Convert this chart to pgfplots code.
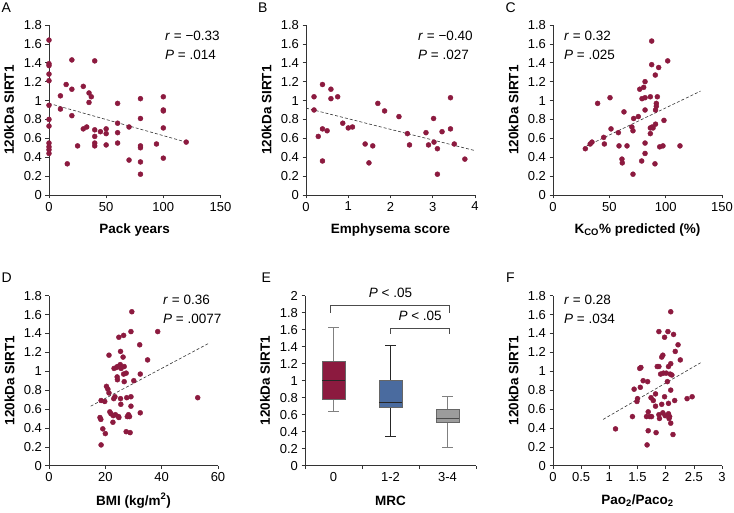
\documentclass[border=0pt]{standalone}
\usepackage{fontspec}
\setmainfont{Liberation Sans}
\usepackage{pgfplots}
\pgfplotsset{compat=1.18}
\usepgfplotslibrary{statistics}
\definecolor{maroon}{HTML}{8C1A3F}
\definecolor{boxblue}{HTML}{4A6B9F}
\definecolor{boxgray}{HTML}{9C9C9C}
\definecolor{axgray}{HTML}{333333}
\pgfplotsset{
 panel/.style={
  scale only axis, width=170pt, height=170pt,
  axis lines=left, axis line style={-, axgray, line width=0.6pt},
  tick align=outside, major tick length=3.5pt,
  tick style={axgray, line width=0.6pt},
  ticklabel style={font=\fontsize{13}{15}\selectfont},
  /pgf/number format/assume math mode=true,
  ymin=0, ymax=1.8, ytick={0,0.2,0.4,0.6,0.8,1,1.2,1.4,1.6,1.8},
  ylabel={120kDa SIRT1},
  every axis y label/.style={at={(axis description cs:-0.233,0.5)}, rotate=90, anchor=center, font=\bfseries\fontsize{13.5}{16}\selectfont},
  every axis x label/.style={at={(axis description cs:0.5,-0.206)}, anchor=center, font=\bfseries\fontsize{13.5}{16}\selectfont},
 },
 dots/.style={only marks, mark=*, mark size=2.5pt, color=maroon},
 trend/.style={dash pattern=on 3pt off 2pt, black!80, line width=0.6pt},
}
\newcommand{\ctext}{\fontsize{13.5}{16}\selectfont}
\begin{document}
\begin{tikzpicture}
\useasboundingbox (0,0) rectangle (734pt,513pt);

% ---------- A ----------
\begin{axis}[panel, at={(49pt,318pt)}, anchor=south west, width=171.5pt,
  xmin=0, xmax=150, xtick={0,50,100,150}, xlabel={Pack years}]
\addplot[dots] coordinates {
(0,1.64)(0,1.39)(0,1.37)(0,1.28)(0,1.21)(0,0.95)(0,0.80)(0,0.73)(0,0.55)(0,0.51)(0,0.48)(0,0.44)
(10,1.05)(10,0.91)(15,1.17)(16,0.33)(20,1.43)(20,1.12)(20,0.84)(25,0.52)
(30,1.15)(30,0.70)(33,0.72)(35,1.08)(35,0.98)(37,1.04)
(40,1.42)(40,0.69)(40,0.62)(40,0.55)(40,0.52)(45,0.67)
(50,0.70)(50,0.65)(50,0.53)(60,0.97)(60,0.76)(60,0.66)(60,0.55)
(70,0.72)(70,0.37)(80,1.02)(80,0.81)(80,0.52)(80,0.50)(80,0.35)(80,0.22)
(94,0.54)(100,1.04)(100,0.90)(100,0.89)(100,0.71)(100,0.39)(120,0.56)};
\addplot[trend] coordinates {(0,0.97)(120,0.56)};
\end{axis}

% ---------- B ----------
\begin{axis}[panel, at={(306pt,318pt)}, anchor=south west, width=169pt,
  xmin=0, xmax=4, xtick={0,1,2,3,4}, xlabel={Emphysema score}]
\addplot[dots] coordinates {
(0.19,1.04)(0.19,0.90)(0.29,0.62)(0.39,1.17)(0.39,0.70)(0.39,0.36)(0.50,0.68)
(0.59,1.12)(0.59,1.02)(0.75,1.04)(0.87,0.76)(1.0,0.71)(1.10,0.72)(1.40,0.54)
(1.49,0.34)(1.58,0.52)(1.70,0.97)(1.86,0.89)(2.20,0.83)(2.40,0.65)(2.45,0.53)
(2.84,0.66)(2.90,0.53)(3.02,0.81)(3.03,0.56)(3.11,0.49)(3.11,0.22)(3.22,0.67)
(3.42,1.03)(3.42,0.70)(3.51,0.54)(3.76,0.38)};
\addplot[trend] coordinates {(0,0.92)(4,0.47)};
\end{axis}

% ---------- C ----------
\begin{axis}[panel, at={(553pt,318pt)}, anchor=south west, width=169pt,
  xmin=0, xmax=150, xtick={0,50,100,150}, xlabel={K\textsubscript{CO}\% predicted (\%)}]
\addplot[dots] coordinates {
(28.7,0.49)(33,0.54)(34.6,0.56)(39.6,0.97)(45,0.61)(45.6,0.54)(50.6,1.03)(51.5,0.70)
(58,0.66)(58.6,0.52)(61.2,0.38)(61.5,0.34)(63,0.88)(65.7,0.52)(70,0.72)(71,0.68)
(71,0.22)(71.6,0.81)(75.7,0.83)(77,1.12)(78.7,0.36)(79,1.02)(80.5,1.14)(81.7,1.20)
(81.7,1.03)(81.7,0.90)(81.7,0.55)(81.7,0.44)(86.4,1.04)(86.4,0.71)(86.4,0.65)
(87.6,1.63)(87.6,1.38)(88,0.72)(88.8,0.71)(90.5,0.33)(90.8,1.27)(91,0.90)(91,0.75)
(91.7,0.97)(91.7,0.94)(92.6,1.04)(93.8,1.35)(94.7,0.51)(97.6,0.52)(98.5,0.79)
(101.8,1.42)(112.7,0.52)};
\addplot[trend] coordinates {(30,0.52)(131,1.10)};
\end{axis}

% ---------- D ----------
\begin{axis}[panel, at={(49pt,47.3pt)}, anchor=south west, width=169pt,
  xmin=0, xmax=60, xtick={0,20,40,60}, xlabel={BMI (kg/m\textsuperscript{2})}]
\addplot[dots] coordinates {
(18.5,0.22)(18.1,0.51)(18.4,0.49)(18.5,0.69)(19.1,0.39)(19.8,0.68)(20.0,0.34)
(20.4,0.84)(20.9,0.81)(21.3,0.77)(21.3,1.17)(21.6,0.57)(22.0,0.55)(22.7,0.46)
(22.8,0.53)(23.0,0.71)(23.1,1.03)(23.4,0.73)(23.6,0.54)(24.0,1.04)(24.2,0.94)
(24.3,0.91)(24.3,1.05)(24.7,0.52)(24.8,0.51)(24.8,1.36)(25.3,1.07)(25.4,1.21)
(25.4,0.71)(25.5,0.65)(25.6,1.03)(26.3,1.15)(26.5,1.38)(26.5,0.97)(26.7,0.89)
(26.7,1.05)(27.4,0.36)(27.4,0.98)(27.6,0.72)(27.8,0.52)(28.2,0.54)(28.6,0.52)
(28.8,0.35)(29.1,0.73)(29.1,0.63)(29.1,1.42)(29.4,1.63)(30.1,0.90)(32.2,1.28)
(32.4,0.97)(32.4,0.56)(35.0,1.12)(38.6,1.42)(52.8,0.72)};
\addplot[trend] coordinates {(14.8,0.63)(57,1.30)};
\end{axis}

% ---------- E ----------
\begin{axis}[panel, at={(305pt,47.3pt)}, anchor=south west, width=171pt,
  clip=false, ymin=0, ymax=2, ytick={0,0.2,0.4,0.6,0.8,1,1.2,1.4,1.6,1.8,2},
  xmin=-0.5, xmax=2.5, xtick={0,1,2}, xticklabels={0,1-2,3-4},
  major x tick style={draw=none}, minor xtick={-0.5,0.5,1.5,2.5},
  minor tick length=3.5pt, minor x tick style={axgray, line width=0.6pt},
  xlabel={MRC}]
\addplot+[boxplot prepared={median=1.00, upper quartile=1.23, lower quartile=0.78,
  upper whisker=1.63, lower whisker=0.64, draw position=0, box extend=0.41, whisker extend=0.18,
  draw direction=y,
  every whisker/.style={draw=gray, line width=0.8pt},
  every median/.style={draw=black!85, line width=0.8pt},
  every box/.style={draw=black!60, fill=maroon, line width=0.6pt}}, mark=none, draw=black!60]
  coordinates {};
\addplot+[boxplot prepared={median=0.75, upper quartile=1.01, lower quartile=0.69,
  upper whisker=1.41, lower whisker=0.35, draw position=1, box extend=0.41, whisker extend=0.18,
  draw direction=y,
  every whisker/.style={draw=black!85, line width=0.8pt},
  every median/.style={draw=black!85, line width=0.8pt},
  every box/.style={draw=black!60, fill=boxblue, line width=0.6pt}}, mark=none, draw=black!60]
  coordinates {};
\addplot+[boxplot prepared={median=0.56, upper quartile=0.66, lower quartile=0.51,
  upper whisker=0.81, lower whisker=0.22, draw position=2, box extend=0.41, whisker extend=0.18,
  draw direction=y,
  every whisker/.style={draw=gray, line width=0.8pt},
  every median/.style={draw=black!70, line width=0.8pt},
  every box/.style={draw=black!60, fill=boxgray, line width=0.6pt}}, mark=none, draw=black!60]
  coordinates {};
\addplot[black!70, line width=0.7pt, mark=none] coordinates {(-0.05,1.80)(-0.05,1.885)(2.04,1.885)(2.04,1.80)};
\addplot[black!70, line width=0.7pt, mark=none] coordinates {(1.0,1.55)(1.0,1.62)(2.04,1.62)(2.04,1.55)};
\node[anchor=base, font=\ctext] at (axis cs:1,1.973) {\textit{P} < .05};
\node[anchor=base, font=\ctext] at (axis cs:1.52,1.709) {\textit{P} < .05};
\end{axis}

% ---------- F ----------
\begin{axis}[panel, at={(553pt,47.3pt)}, anchor=south west, width=169pt,
  xmin=0, xmax=3, xtick={0,0.5,1,1.5,2,2.5,3}, xlabel={Pao\textsubscript{2}/Paco\textsubscript{2}}]
\addplot[dots] coordinates {
(1.11,0.39)(1.41,0.52)(1.44,0.81)(1.49,0.68)(1.50,0.71)(1.54,1.03)(1.56,1.04)
(1.55,0.83)(1.60,0.90)(1.68,0.89)(1.66,0.52)(1.67,0.22)(1.69,0.37)(1.69,0.57)
(1.72,0.52)(1.74,0.72)(1.75,0.52)(1.78,0.69)(1.82,0.76)(1.82,0.63)(1.83,0.35)
(1.85,1.05)(1.88,1.05)(1.88,0.54)(1.88,1.42)(1.89,0.50)(1.91,0.97)(1.93,0.65)
(1.93,1.15)(1.95,1.17)(1.95,0.56)(1.96,0.98)(1.98,1.36)(1.98,0.73)(1.99,0.53)
(2.01,0.98)(2.03,0.89)(2.04,1.42)(2.05,0.66)(2.05,0.55)(2.05,1.05)(2.06,0.50)
(2.07,0.52)(2.08,0.97)(2.09,1.63)(2.09,1.08)(2.09,0.80)(2.09,0.45)(2.11,0.96)
(2.13,0.33)(2.14,1.39)(2.16,0.69)(2.17,1.21)(2.22,1.28)(2.26,1.12)(2.38,0.71)(2.47,0.73)};
\addplot[trend] coordinates {(0.89,0.49)(2.62,1.09)};
\end{axis}

% ---------- annotations ----------
\begin{scope}[every node/.style={inner sep=0pt, font=\ctext}]
\node[anchor=base west, font=\fontsize{14}{16}\selectfont] at (1.5pt,500pt) {A};
\node[anchor=base west, font=\fontsize{14}{16}\selectfont] at (258pt,500pt) {B};
\node[anchor=base west, font=\fontsize{14}{16}\selectfont] at (505.5pt,500pt) {C};
\node[anchor=base west, font=\fontsize{14}{16}\selectfont] at (1.5pt,230pt) {D};
\node[anchor=base west, font=\fontsize{14}{16}\selectfont] at (261.5pt,230pt) {E};
\node[anchor=base west, font=\fontsize{14}{16}\selectfont] at (506pt,230pt) {F};
\node[anchor=base west] at (165pt,472pt) {\textit{r} = −0.33};
\node[anchor=base west] at (165pt,453pt) {\textit{P} = .014};
\node[anchor=base west] at (418pt,472pt) {\textit{r} = −0.40};
\node[anchor=base west] at (418pt,453pt) {\textit{P} = .027};
\node[anchor=base west] at (564pt,472pt) {\textit{r} = 0.32};
\node[anchor=base west] at (564pt,453pt) {\textit{P} = .025};
\node[anchor=base west] at (163pt,208.7pt) {\textit{r} = 0.36};
\node[anchor=base west] at (163pt,189pt) {\textit{P} = .0077};
\node[anchor=base west] at (564pt,208.7pt) {\textit{r} = 0.28};
\node[anchor=base west] at (564pt,189pt) {\textit{P} = .034};
\end{scope}
\end{tikzpicture}
\end{document}
